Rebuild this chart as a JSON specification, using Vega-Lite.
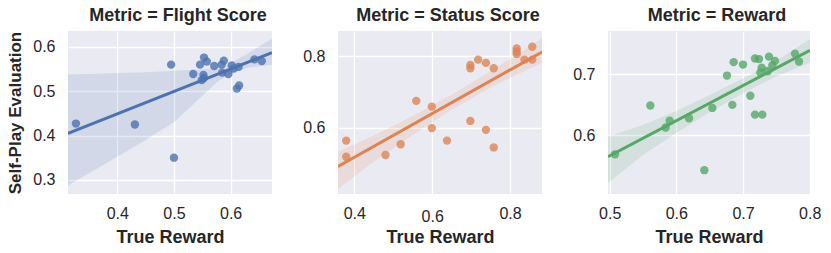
{
  "$schema": "https://vega.github.io/schema/vega-lite/v6.json",
  "background": "white",
  "padding": {"left": 6, "top": 7, "right": 5, "bottom": 2},
  "spacing": 66,
  "bounds": "flush",
  "config": {
    "view": {"fill": "#EAEAF2", "stroke": null},
    "axis": {
      "domain": false, "ticks": false, "grid": true, "gridColor": "#FFFFFF", "gridWidth": 1.3,
      "labelFont": "Liberation Sans", "labelFontSize": 16, "labelColor": "#262626",
      "titleFont": "Liberation Sans", "titleFontSize": 18, "titleFontWeight": "bold", "titleColor": "#262626",
      "labelOverlap": false
    },
    "axisX": {"labelPadding": 11, "titlePadding": 7, "labelFlush": false},
    "axisY": {"labelPadding": 13, "titlePadding": 8, "titleFontSize": 17},
    "title": {"font": "Liberation Sans", "fontSize": 18, "fontWeight": "bold", "color": "#262626", "offset": 6, "dx": 8}
  },
  "datasets": {
    "points": [
      {"metric": "Flight Score", "true_reward": 0.327, "self_play": 0.427},
      {"metric": "Flight Score", "true_reward": 0.431, "self_play": 0.425},
      {"metric": "Flight Score", "true_reward": 0.495, "self_play": 0.560},
      {"metric": "Flight Score", "true_reward": 0.500, "self_play": 0.350},
      {"metric": "Flight Score", "true_reward": 0.534, "self_play": 0.539},
      {"metric": "Flight Score", "true_reward": 0.546, "self_play": 0.560},
      {"metric": "Flight Score", "true_reward": 0.553, "self_play": 0.576},
      {"metric": "Flight Score", "true_reward": 0.558, "self_play": 0.567},
      {"metric": "Flight Score", "true_reward": 0.552, "self_play": 0.537},
      {"metric": "Flight Score", "true_reward": 0.549, "self_play": 0.525},
      {"metric": "Flight Score", "true_reward": 0.553, "self_play": 0.530},
      {"metric": "Flight Score", "true_reward": 0.571, "self_play": 0.557},
      {"metric": "Flight Score", "true_reward": 0.584, "self_play": 0.560},
      {"metric": "Flight Score", "true_reward": 0.588, "self_play": 0.569},
      {"metric": "Flight Score", "true_reward": 0.585, "self_play": 0.542},
      {"metric": "Flight Score", "true_reward": 0.596, "self_play": 0.539},
      {"metric": "Flight Score", "true_reward": 0.602, "self_play": 0.558},
      {"metric": "Flight Score", "true_reward": 0.605, "self_play": 0.551},
      {"metric": "Flight Score", "true_reward": 0.614, "self_play": 0.555},
      {"metric": "Flight Score", "true_reward": 0.611, "self_play": 0.506},
      {"metric": "Flight Score", "true_reward": 0.615, "self_play": 0.513},
      {"metric": "Flight Score", "true_reward": 0.642, "self_play": 0.572},
      {"metric": "Flight Score", "true_reward": 0.655, "self_play": 0.568},
      {"metric": "Status Score", "true_reward": 0.379, "self_play": 0.564},
      {"metric": "Status Score", "true_reward": 0.379, "self_play": 0.519},
      {"metric": "Status Score", "true_reward": 0.480, "self_play": 0.524},
      {"metric": "Status Score", "true_reward": 0.519, "self_play": 0.554},
      {"metric": "Status Score", "true_reward": 0.559, "self_play": 0.675},
      {"metric": "Status Score", "true_reward": 0.599, "self_play": 0.659},
      {"metric": "Status Score", "true_reward": 0.599, "self_play": 0.599},
      {"metric": "Status Score", "true_reward": 0.638, "self_play": 0.564},
      {"metric": "Status Score", "true_reward": 0.698, "self_play": 0.775},
      {"metric": "Status Score", "true_reward": 0.698, "self_play": 0.766},
      {"metric": "Status Score", "true_reward": 0.718, "self_play": 0.790},
      {"metric": "Status Score", "true_reward": 0.738, "self_play": 0.781},
      {"metric": "Status Score", "true_reward": 0.758, "self_play": 0.766},
      {"metric": "Status Score", "true_reward": 0.698, "self_play": 0.619},
      {"metric": "Status Score", "true_reward": 0.738, "self_play": 0.594},
      {"metric": "Status Score", "true_reward": 0.758, "self_play": 0.545},
      {"metric": "Status Score", "true_reward": 0.817, "self_play": 0.821},
      {"metric": "Status Score", "true_reward": 0.817, "self_play": 0.813},
      {"metric": "Status Score", "true_reward": 0.817, "self_play": 0.806},
      {"metric": "Status Score", "true_reward": 0.837, "self_play": 0.790},
      {"metric": "Status Score", "true_reward": 0.857, "self_play": 0.826},
      {"metric": "Status Score", "true_reward": 0.857, "self_play": 0.790},
      {"metric": "Reward", "true_reward": 0.508, "self_play": 0.569},
      {"metric": "Reward", "true_reward": 0.561, "self_play": 0.649},
      {"metric": "Reward", "true_reward": 0.584, "self_play": 0.613},
      {"metric": "Reward", "true_reward": 0.590, "self_play": 0.624},
      {"metric": "Reward", "true_reward": 0.619, "self_play": 0.628},
      {"metric": "Reward", "true_reward": 0.642, "self_play": 0.543},
      {"metric": "Reward", "true_reward": 0.654, "self_play": 0.645},
      {"metric": "Reward", "true_reward": 0.676, "self_play": 0.698},
      {"metric": "Reward", "true_reward": 0.684, "self_play": 0.650},
      {"metric": "Reward", "true_reward": 0.686, "self_play": 0.720},
      {"metric": "Reward", "true_reward": 0.700, "self_play": 0.716},
      {"metric": "Reward", "true_reward": 0.711, "self_play": 0.665},
      {"metric": "Reward", "true_reward": 0.718, "self_play": 0.726},
      {"metric": "Reward", "true_reward": 0.724, "self_play": 0.725},
      {"metric": "Reward", "true_reward": 0.718, "self_play": 0.634},
      {"metric": "Reward", "true_reward": 0.729, "self_play": 0.634},
      {"metric": "Reward", "true_reward": 0.728, "self_play": 0.711},
      {"metric": "Reward", "true_reward": 0.726, "self_play": 0.703},
      {"metric": "Reward", "true_reward": 0.739, "self_play": 0.729},
      {"metric": "Reward", "true_reward": 0.737, "self_play": 0.705},
      {"metric": "Reward", "true_reward": 0.748, "self_play": 0.722},
      {"metric": "Reward", "true_reward": 0.744, "self_play": 0.715},
      {"metric": "Reward", "true_reward": 0.778, "self_play": 0.734},
      {"metric": "Reward", "true_reward": 0.784, "self_play": 0.721}
    ],
    "band": [
      {"metric": "Flight Score", "x": 0.313, "lower": 0.287, "upper": 0.538},
      {"metric": "Flight Score", "x": 0.35, "lower": 0.315, "upper": 0.539},
      {"metric": "Flight Score", "x": 0.40, "lower": 0.352, "upper": 0.541},
      {"metric": "Flight Score", "x": 0.45, "lower": 0.39, "upper": 0.543},
      {"metric": "Flight Score", "x": 0.50, "lower": 0.43, "upper": 0.546},
      {"metric": "Flight Score", "x": 0.55, "lower": 0.49, "upper": 0.549},
      {"metric": "Flight Score", "x": 0.58, "lower": 0.525, "upper": 0.554},
      {"metric": "Flight Score", "x": 0.60, "lower": 0.538, "upper": 0.563},
      {"metric": "Flight Score", "x": 0.63, "lower": 0.553, "upper": 0.585},
      {"metric": "Flight Score", "x": 0.673, "lower": 0.560, "upper": 0.619},
      {"metric": "Status Score", "x": 0.358, "lower": 0.43, "upper": 0.533},
      {"metric": "Status Score", "x": 0.45, "lower": 0.505, "upper": 0.578},
      {"metric": "Status Score", "x": 0.55, "lower": 0.580, "upper": 0.633},
      {"metric": "Status Score", "x": 0.65, "lower": 0.650, "upper": 0.692},
      {"metric": "Status Score", "x": 0.75, "lower": 0.712, "upper": 0.758},
      {"metric": "Status Score", "x": 0.82, "lower": 0.750, "upper": 0.806},
      {"metric": "Status Score", "x": 0.882, "lower": 0.781, "upper": 0.85},
      {"metric": "Reward", "x": 0.4975, "lower": 0.522, "upper": 0.598},
      {"metric": "Reward", "x": 0.55, "lower": 0.568, "upper": 0.617},
      {"metric": "Reward", "x": 0.60, "lower": 0.604, "upper": 0.640},
      {"metric": "Reward", "x": 0.65, "lower": 0.638, "upper": 0.666},
      {"metric": "Reward", "x": 0.70, "lower": 0.669, "upper": 0.693},
      {"metric": "Reward", "x": 0.75, "lower": 0.697, "upper": 0.722},
      {"metric": "Reward", "x": 0.8005, "lower": 0.719, "upper": 0.758}
    ]
  },
  "hconcat": [
    {
      "width": 204, "height": 163,
      "title": "Metric = Flight Score",
      "layer": [
        {
          "data": {"name": "band"},
          "transform": [{"filter": "datum.metric == 'Flight Score'"}],
          "mark": {"type": "area", "color": "#4C72B0", "opacity": 0.15, "clip": true},
          "encoding": {
            "x": {"field": "x", "type": "quantitative", "title": "True Reward", "scale": {"domain": [0.313, 0.673], "nice": false, "zero": false}, "axis": {"values": [0.4, 0.5, 0.6], "format": ".1f"}},
            "y": {"field": "upper", "type": "quantitative", "title": "Self-Play Evaluation", "scale": {"domain": [0.268, 0.636], "nice": false, "zero": false}, "axis": {"values": [0.3, 0.4, 0.5, 0.6], "format": ".1f"}},
            "y2": {"field": "lower"}
          }
        },
        {
          "data": {"name": "points"},
          "transform": [{"filter": "datum.metric == 'Flight Score'"}],
          "mark": {"type": "circle", "color": "#4C72B0", "opacity": 0.8, "size": 70, "clip": true},
          "encoding": {
            "x": {"field": "true_reward", "type": "quantitative", "title": "True Reward"},
            "y": {"field": "self_play", "type": "quantitative", "title": "Self-Play Evaluation"}
          }
        },
        {
          "data": {"name": "points"},
          "transform": [{"filter": "datum.metric == 'Flight Score'"}, {"regression": "self_play", "on": "true_reward", "extent": [0.313, 0.673]}],
          "mark": {"type": "line", "color": "#4C72B0", "strokeWidth": 3, "clip": true},
          "encoding": {
            "x": {"field": "true_reward", "type": "quantitative", "title": "True Reward"},
            "y": {"field": "self_play", "type": "quantitative", "title": "Self-Play Evaluation"}
          }
        }
      ]
    },
    {
      "width": 204, "height": 163,
      "title": "Metric = Status Score",
      "layer": [
        {
          "data": {"name": "band"},
          "transform": [{"filter": "datum.metric == 'Status Score'"}],
          "mark": {"type": "area", "color": "#DD8452", "opacity": 0.15, "clip": true},
          "encoding": {
            "x": {"field": "x", "type": "quantitative", "title": "True Reward", "scale": {"domain": [0.358, 0.882], "nice": false, "zero": false}, "axis": {"values": [0.4, 0.6, 0.8], "format": ".1f", "titlePadding": 4, "labelPadding": {"condition": {"test": "datum.value == 0.6", "value": 14}, "value": 11}}},
            "y": {"field": "upper", "type": "quantitative", "title": null, "scale": {"domain": [0.415, 0.87], "nice": false, "zero": false}, "axis": {"values": [0.6, 0.8], "format": ".1f"}},
            "y2": {"field": "lower"}
          }
        },
        {
          "data": {"name": "points"},
          "transform": [{"filter": "datum.metric == 'Status Score'"}],
          "mark": {"type": "circle", "color": "#DD8452", "opacity": 0.8, "size": 70, "clip": true},
          "encoding": {
            "x": {"field": "true_reward", "type": "quantitative", "title": "True Reward"},
            "y": {"field": "self_play", "type": "quantitative", "title": null}
          }
        },
        {
          "data": {"name": "points"},
          "transform": [{"filter": "datum.metric == 'Status Score'"}, {"regression": "self_play", "on": "true_reward", "extent": [0.358, 0.882]}],
          "mark": {"type": "line", "color": "#DD8452", "strokeWidth": 3, "clip": true},
          "encoding": {
            "x": {"field": "true_reward", "type": "quantitative", "title": "True Reward"},
            "y": {"field": "self_play", "type": "quantitative", "title": null}
          }
        }
      ]
    },
    {
      "width": 202, "height": 163,
      "title": "Metric = Reward",
      "layer": [
        {
          "data": {"name": "band"},
          "transform": [{"filter": "datum.metric == 'Reward'"}],
          "mark": {"type": "area", "color": "#55A868", "opacity": 0.15, "clip": true},
          "encoding": {
            "x": {"field": "x", "type": "quantitative", "title": "True Reward", "scale": {"domain": [0.4975, 0.8005], "nice": false, "zero": false}, "axis": {"values": [0.5, 0.6, 0.7, 0.8], "format": ".1f"}},
            "y": {"field": "upper", "type": "quantitative", "title": null, "scale": {"domain": [0.504, 0.771], "nice": false, "zero": false}, "axis": {"values": [0.6, 0.7], "format": ".1f"}},
            "y2": {"field": "lower"}
          }
        },
        {
          "data": {"name": "points"},
          "transform": [{"filter": "datum.metric == 'Reward'"}],
          "mark": {"type": "circle", "color": "#55A868", "opacity": 0.8, "size": 70, "clip": true},
          "encoding": {
            "x": {"field": "true_reward", "type": "quantitative", "title": "True Reward"},
            "y": {"field": "self_play", "type": "quantitative", "title": null}
          }
        },
        {
          "data": {"name": "points"},
          "transform": [{"filter": "datum.metric == 'Reward'"}, {"regression": "self_play", "on": "true_reward", "extent": [0.4975, 0.8005]}],
          "mark": {"type": "line", "color": "#55A868", "strokeWidth": 3, "clip": true},
          "encoding": {
            "x": {"field": "true_reward", "type": "quantitative", "title": "True Reward"},
            "y": {"field": "self_play", "type": "quantitative", "title": null}
          }
        }
      ]
    }
  ]
}
